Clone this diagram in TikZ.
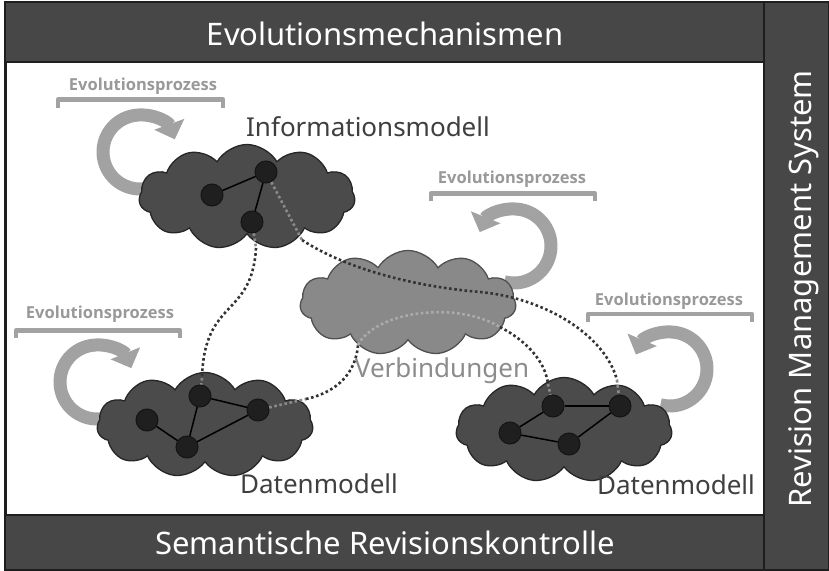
\documentclass[tikz,border=0pt]{standalone}
\usepackage{fontspec}
\setmainfont{Noto Sans}
\newfontfamily\evofont{Open Sans}
\usetikzlibrary{shapes.symbols,arrows.meta}
\definecolor{barfill}{HTML}{474747}
\definecolor{framecol}{HTML}{1E1E1E}
\definecolor{darkfill}{HTML}{4B4B4B}
\definecolor{darkedge}{HTML}{262626}
\definecolor{midfill}{HTML}{898989}
\definecolor{midedge}{HTML}{505050}
\definecolor{evogray}{HTML}{A2A2A2}
\definecolor{evotext}{HTML}{999999}
\definecolor{labeltext}{HTML}{3F3F3F}
\definecolor{verbtext}{HTML}{8C8C8C}
\definecolor{linkdark}{HTML}{333333}
\definecolor{linklight}{HTML}{8A8A8A}
\definecolor{linkpale}{HTML}{ABABAB}

\begin{document}
\begin{tikzpicture}[x=1pt,y=-1pt,
    vertex/.style={circle,draw=black!92,fill=black!88,minimum size=22pt,inner sep=0pt,line width=1pt},
    darkcloud/.style={cloud,cloud puffs=11,cloud puff arc=120,draw=darkedge,fill=darkfill,line width=1.3pt,
      minimum width=216pt,minimum height=105pt,inner sep=0pt},
    midcloud/.style={darkcloud,draw=midedge,fill=midfill},
    edge/.style={black,line width=1.5pt},
    evoarrow/.style={evogray,line width=13pt,-{Triangle[width=31pt,length=16pt]}},
    bracket/.style={evogray,line width=4.5pt,line join=round},
    evolabel/.style={evotext,font=\evofont\bfseries\fontsize{16.5}{20}\selectfont,inner sep=0pt},
    bartext/.style={white,font=\fontsize{31}{36}\selectfont,inner sep=0pt},
    modeltext/.style={labeltext,font=\fontsize{26}{30}\selectfont,inner sep=0pt},
    link/.style={linkdark,line width=2.6pt,dash pattern=on 2.6pt off 2.6pt},
    linkin/.style={link,linklight},
    linkmid/.style={link,linkpale}]

\useasboundingbox (0,0) rectangle (829,570);
\fill[barfill] (5,2) rectangle (829,570);
\draw[framecol,line width=2pt] (5,2) rectangle (829,570);
\filldraw[fill=white,draw=framecol,line width=2pt] (6,62) rectangle (764,515);
\draw[framecol,line width=2pt] (764,2) -- (764,570);

\node[bartext] (top) at (385,34) {Evolutionsmechanismen};
\node[bartext] (bottom) at (385,543) {Semantische Revisionskontrolle};
\node[bartext,rotate=90] (side) at (804,289) {Revision Management System};

\node[evolabel] (ep1) at (143,86) {Evolutionsprozess};
\node[evolabel] (ep2) at (512,179) {Evolutionsprozess};
\node[evolabel] (ep3) at (100,314) {Evolutionsprozess};
\node[evolabel] (ep4) at (669,301) {Evolutionsprozess};
\draw[bracket] (58,108) -- (58,99.5) -- (223,99.5) -- (223,108);
\draw[bracket] (431,201) -- (431,193.5) -- (595,193.5) -- (595,201);
\draw[bracket] (16,338) -- (16,330.5) -- (180,330.5) -- (180,338);
\draw[bracket] (588,322) -- (588,314) -- (752,314) -- (752,322);

\coordinate (ring1) at (140,152);
\coordinate (ring2) at (514,246);
\coordinate (ring3) at (97,382);
\coordinate (ring4) at (670,369);
\draw[evoarrow] (ring1) ++(75:37) arc[start angle=75,end angle=340,radius=37];
\draw[evoarrow] (ring2) ++(105:37) arc[start angle=105,end angle=-158,radius=37];
\draw[evoarrow] (ring3) ++(75:37) arc[start angle=75,end angle=338,radius=37];
\draw[evoarrow] (ring4) ++(105:37) arc[start angle=105,end angle=-157,radius=37];

\node[darkcloud] (info) at (247,197) {};
\node[midcloud] (verb) at (408,303) {};
\node[darkcloud] (datl) at (205,425) {};
\node[darkcloud] (datr) at (564,430) {};

\node[modeltext] (infotext) at (368,127) {Informationsmodell};
\node[modeltext,verbtext] (verbtext) at (442,371) {Verbindungen};
\node[modeltext] (datltext) at (319,484) {Datenmodell};
\node[modeltext] (datrtext) at (676,485) {Datenmodell};

\node[vertex] (i1) at (212,195) {};
\node[vertex] (i2) at (266,172) {};
\node[vertex] (i3) at (252,222) {};
\node[vertex] (l1) at (147,420) {};
\node[vertex] (l2) at (200,396) {};
\node[vertex] (l3) at (258,410) {};
\node[vertex] (l4) at (187,447) {};
\node[vertex] (r1) at (510,433) {};
\node[vertex] (r2) at (553,406) {};
\node[vertex] (r3) at (620,406) {};
\node[vertex] (r4) at (569,444) {};

\draw[edge] (i1) -- (i2);
\draw[edge] (i2) -- (i3);
\draw[edge] (l1) -- (l4);
\draw[edge] (l4) -- (l2);
\draw[edge] (l2) -- (l3);
\draw[edge] (l3) -- (l4);
\draw[edge] (r1) -- (r2);
\draw[edge] (r2) -- (r3);
\draw[edge] (r3) -- (r4);
\draw[edge] (r4) -- (r1);

\coordinate (a1) at (256,248);
\coordinate (a2) at (202,378);
\draw[linkin] (i3) -- (a1);
\draw[link] (a1) .. controls (252,318) and (204,298) .. (a2);
\draw[linkin] (a2) -- (l2);

\coordinate (b1) at (302,240);
\coordinate (b2) at (480,292);
\coordinate (b3) at (617,380);
\draw[linkin] (i2) -- (b1);
\draw[link] (b1) .. controls (345,268) and (410,286) .. (b2)
  .. controls (545,298) and (605,335) .. (b3);
\draw[linkin] (b3) -- (r3);

\coordinate (c1) at (306,399);
\coordinate (c2) at (358,345);
\coordinate (c3) at (500,327);
\coordinate (c4) at (548,384);
\draw[linkin] (l3) -- (c1);
\draw[link] (c1) .. controls (338,392) and (356,372) .. (c2);
\draw[linkmid] (c2) .. controls (375,312) and (455,300) .. (c3);
\draw[link] (c3) .. controls (525,340) and (545,360) .. (c4);
\draw[linkin] (c4) -- (r2);
\end{tikzpicture}
\end{document}
